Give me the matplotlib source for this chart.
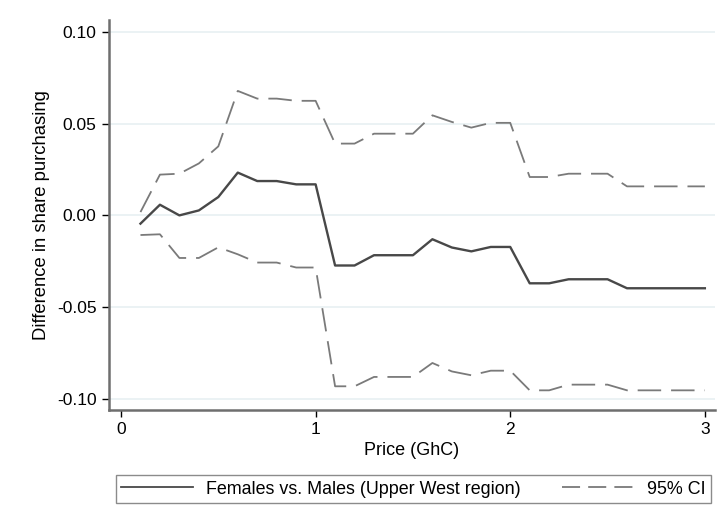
import numpy as np
import matplotlib.pyplot as plt

plt.rcParams['font.family'] = ['Liberation Sans', 'DejaVu Sans']

# prix de 0.1 à 3.0 GhC
price = [0.1, 0.2, 0.3, 0.4, 0.5, 0.6, 0.7, 0.8, 0.9, 1.0,
         1.1, 1.2, 1.3, 1.4, 1.5, 1.6, 1.7, 1.8, 1.9, 2.0,
         2.1, 2.2, 2.3, 2.4, 2.5, 2.6, 2.7, 2.8, 2.9, 3.0]

diff = [-0.0045, 0.0058, 0.0000, 0.0027, 0.0100, 0.0233, 0.0187, 0.0187, 0.0169, 0.0169,
        -0.0273, -0.0273, -0.0217, -0.0217, -0.0217, -0.0130, -0.0175, -0.0196, -0.0172, -0.0172,
        -0.0370, -0.0370, -0.0348, -0.0348, -0.0348, -0.0397, -0.0397, -0.0397, -0.0397, -0.0397]

ci_low = [-0.0107, -0.0103, -0.0232, -0.0232, -0.0174, -0.0212, -0.0257, -0.0257, -0.0284, -0.0284,
          -0.0931, -0.0931, -0.0880, -0.0880, -0.0880, -0.0804, -0.0850, -0.0871, -0.0846, -0.0846,
          -0.0953, -0.0953, -0.0922, -0.0922, -0.0922, -0.0953, -0.0953, -0.0953, -0.0953, -0.0953]

ci_high = [0.0018, 0.0222, 0.0227, 0.0283, 0.0376, 0.0678, 0.0636, 0.0636, 0.0624, 0.0624,
           0.0391, 0.0391, 0.0445, 0.0445, 0.0445, 0.0545, 0.0509, 0.0478, 0.0504, 0.0504,
           0.0209, 0.0209, 0.0227, 0.0227, 0.0227, 0.0158, 0.0158, 0.0158, 0.0158, 0.0158]

yticks = [-0.10, -0.05, 0.00, 0.05, 0.10]
ytick_labels = ["-0.10", "-0.05", "0.00", "0.05", "0.10"]
xticks = [0, 1, 2, 3]

fig = plt.figure(figsize=(7.22, 5.22), dpi=100)
ax = fig.add_axes([0.151, 0.2146, 0.839, 0.747])

for yv in yticks:
    ax.axhline(yv, color='#e8f0f2', linewidth=1.2, zorder=0)

dash = (0, (13, 5.5))
ax.plot(price, ci_high, color='#7a7a7a', linewidth=1.3, linestyle=dash)
ax.plot(price, ci_low, color='#7a7a7a', linewidth=1.3, linestyle=dash)
ax.plot(price, diff, color='#484848', linewidth=1.7)

ax.set_xlim(-0.0616, 3.051)
ax.set_ylim(-0.106, 0.1064)
ax.set_yticks(yticks)
ax.set_yticklabels(ytick_labels)
ax.set_xticks(xticks)

for s in ['top', 'right']:
    ax.spines[s].set_visible(False)
for s in ['left', 'bottom']:
    ax.spines[s].set_color('#6e6e6e')
    ax.spines[s].set_linewidth(1.8)
ax.tick_params(axis='both', direction='out', length=5, width=1, color='black',
               labelsize=12.5, pad=4)

ax.set_ylabel("Difference in share purchasing", fontsize=13.3, labelpad=5)
ax.set_xlabel("Price (GhC)", fontsize=13, labelpad=3)

# légende sous le graphique
h_main, = ax.plot([], [], color='#484848', linewidth=1.3)
h_ci, = ax.plot([], [], color='#7a7a7a', linewidth=1.3, linestyle=(0, (10, 4.5)))
leg = fig.legend([h_main, h_ci], ["Females vs. Males (Upper West region)", "95% CI"],
                 loc='lower left', bbox_to_anchor=(116 / 722, 19 / 522, 595 / 722, 31 / 522),
                 mode='expand', ncol=2, fontsize=12.9, frameon=True, fancybox=False,
                 handlelength=4.0, handletextpad=0.75, borderaxespad=0, borderpad=0.3)
leg.get_frame().set_edgecolor('#6e6e6e')
leg.get_frame().set_linewidth(1.0)

fig.savefig("out.png", dpi=100)
